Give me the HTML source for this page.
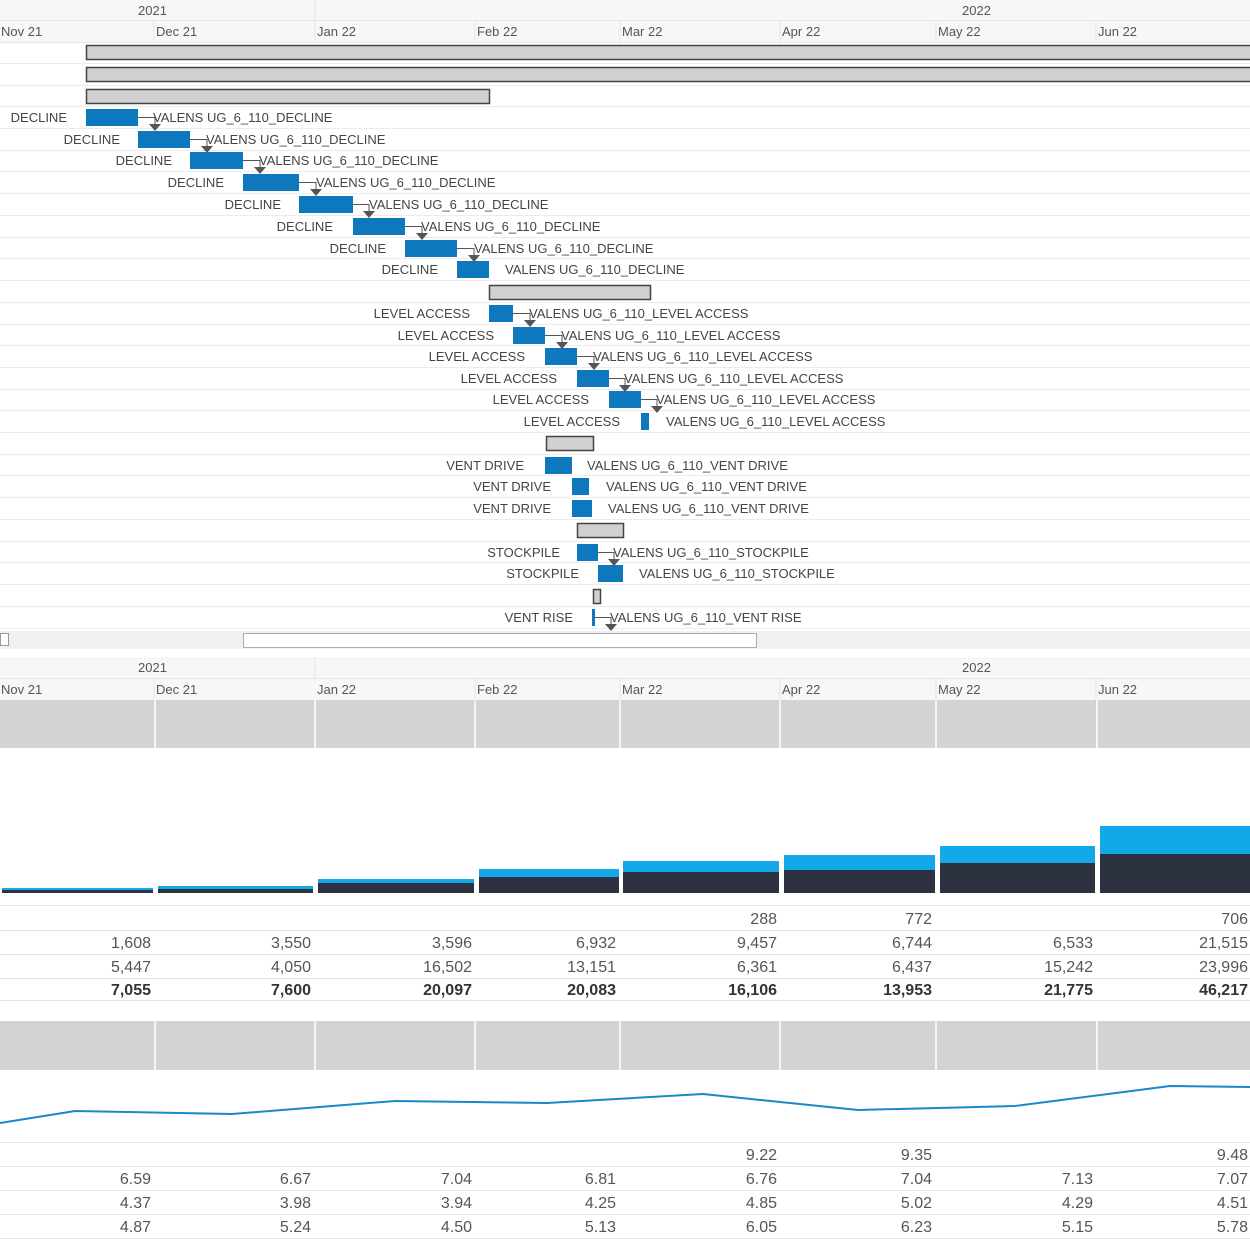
<!DOCTYPE html>
<html><head><meta charset="utf-8"><style>
html,body{margin:0;padding:0;background:#fff;}
svg{display:block;font-family:"Liberation Sans",sans-serif;}
.g{font-size:13px;fill:#444;}
.h{font-size:13px;fill:#555;}
.n{font-size:16px;fill:#555;}
.b{font-size:16px;fill:#333;font-weight:bold;}
</style></head><body>
<svg width="1250" height="1250" viewBox="0 0 1250 1250">
<!-- top header -->
<rect x="0" y="0" width="1250" height="42" fill="#f7f7f7"/>
<line x1="0" y1="20.5" x2="1250" y2="20.5" stroke="#e6e6e6"/>
<line x1="0" y1="42.5" x2="1250" y2="42.5" stroke="#e6e6e6"/>
<line x1="315" y1="0" x2="315" y2="42" stroke="#e6e6e6"/>
<g stroke="#e6e6e6"><line x1="154" y1="20" x2="154" y2="42"/><line x1="475" y1="20" x2="475" y2="42"/><line x1="620" y1="20" x2="620" y2="42"/><line x1="780" y1="20" x2="780" y2="42"/><line x1="936" y1="20" x2="936" y2="42"/><line x1="1096" y1="20" x2="1096" y2="42"/></g>
<text class="h" x="138" y="15">2021</text><text class="h" x="962" y="15">2022</text>
<g class="h"><text x="1" y="36">Nov 21</text><text x="156" y="36">Dec 21</text><text x="317" y="36">Jan 22</text><text x="477" y="36">Feb 22</text><text x="622" y="36">Mar 22</text><text x="782" y="36">Apr 22</text><text x="938" y="36">May 22</text><text x="1098" y="36">Jun 22</text></g>
<!-- row lines -->
<g stroke="#ececec">
<line x1="0" y1="63.5" x2="1250" y2="63.5"/><line x1="0" y1="85.5" x2="1250" y2="85.5"/><line x1="0" y1="106.5" x2="1250" y2="106.5"/><line x1="0" y1="128.5" x2="1250" y2="128.5"/><line x1="0" y1="150.5" x2="1250" y2="150.5"/><line x1="0" y1="171.5" x2="1250" y2="171.5"/><line x1="0" y1="193.5" x2="1250" y2="193.5"/><line x1="0" y1="215.5" x2="1250" y2="215.5"/><line x1="0" y1="237.5" x2="1250" y2="237.5"/><line x1="0" y1="258.5" x2="1250" y2="258.5"/><line x1="0" y1="280.5" x2="1250" y2="280.5"/><line x1="0" y1="302.5" x2="1250" y2="302.5"/><line x1="0" y1="324.5" x2="1250" y2="324.5"/><line x1="0" y1="345.5" x2="1250" y2="345.5"/><line x1="0" y1="367.5" x2="1250" y2="367.5"/><line x1="0" y1="389.5" x2="1250" y2="389.5"/><line x1="0" y1="410.5" x2="1250" y2="410.5"/><line x1="0" y1="432.5" x2="1250" y2="432.5"/><line x1="0" y1="454.5" x2="1250" y2="454.5"/><line x1="0" y1="475.5" x2="1250" y2="475.5"/><line x1="0" y1="497.5" x2="1250" y2="497.5"/><line x1="0" y1="519.5" x2="1250" y2="519.5"/><line x1="0" y1="541.5" x2="1250" y2="541.5"/><line x1="0" y1="562.5" x2="1250" y2="562.5"/><line x1="0" y1="584.5" x2="1250" y2="584.5"/><line x1="0" y1="606.5" x2="1250" y2="606.5"/><line x1="0" y1="628.5" x2="1250" y2="628.5"/>
</g>
<!-- gray summary bars -->
<g fill="#d0d0d0" stroke="#444" stroke-width="1.5">
<rect x="86.5" y="45.5" width="1170" height="14"/>
<rect x="86.5" y="67.5" width="1170" height="14"/>
<rect x="86.5" y="89.5" width="403" height="14"/>
<rect x="489.5" y="285.5" width="161" height="14"/>
<rect x="546.5" y="436.5" width="47" height="14"/>
<rect x="577.5" y="523.5" width="46" height="14"/>
<rect x="593.5" y="589.5" width="7" height="14"/>
</g>
<!-- blue bars -->
<g fill="#0e78be">
<rect x="86" y="109" width="52" height="17"/>
<rect x="138" y="131" width="52" height="17"/>
<rect x="190" y="152" width="53" height="17"/>
<rect x="243" y="174" width="56" height="17"/>
<rect x="299" y="196" width="54" height="17"/>
<rect x="353" y="218" width="52" height="17"/>
<rect x="405" y="240" width="52" height="17"/>
<rect x="457" y="261" width="32" height="17"/>
<rect x="489" y="305" width="24" height="17"/>
<rect x="513" y="327" width="32" height="17"/>
<rect x="545" y="348" width="32" height="17"/>
<rect x="577" y="370" width="32" height="17"/>
<rect x="609" y="391" width="32" height="17"/>
<rect x="641" y="413" width="8" height="17"/>
<rect x="545" y="457" width="27" height="17"/>
<rect x="572" y="478" width="17" height="17"/>
<rect x="572" y="500" width="20" height="17"/>
<rect x="577" y="544" width="21" height="17"/>
<rect x="598" y="565" width="25" height="17"/>
<rect x="592" y="609" width="3" height="17"/>
</g>
<!-- connectors -->
<g stroke="#555" fill="none" stroke-width="1">
<path d="M138 117.5H155V124"/><path d="M190 139.5H207V146"/><path d="M243 160.5H260V167"/><path d="M299 182.5H316V189"/><path d="M353 204.5H369V211"/><path d="M405 226.5H422V233"/><path d="M457 248.5H474V255"/>
<path d="M513 313.5H530V320"/><path d="M545 335.5H562V342"/><path d="M577 356.5H594V363"/><path d="M609 378.5H625V385"/><path d="M641 399.5H657V406"/>
<path d="M598 552.5H614V559"/><path d="M595 617.5H611V624"/>
</g>
<g fill="#555">
<path d="M149 124h12l-6 7z"/><path d="M201 146h12l-6 7z"/><path d="M254 167h12l-6 7z"/><path d="M310 189h12l-6 7z"/><path d="M363 211h12l-6 7z"/><path d="M416 233h12l-6 7z"/><path d="M468 255h12l-6 7z"/>
<path d="M524 320h12l-6 7z"/><path d="M556 342h12l-6 7z"/><path d="M588 363h12l-6 7z"/><path d="M619 385h12l-6 7z"/><path d="M651 406h12l-6 7z"/>
<path d="M608 559h12l-6 7z"/><path d="M605 624h12l-6 7z"/>
</g>
<!-- labels -->
<g class="g" text-anchor="end">
<text x="67" y="122">DECLINE</text><text x="120" y="144">DECLINE</text><text x="172" y="165">DECLINE</text><text x="224" y="187">DECLINE</text><text x="281" y="209">DECLINE</text><text x="333" y="231">DECLINE</text><text x="386" y="253">DECLINE</text><text x="438" y="274">DECLINE</text>
<text x="470" y="318">LEVEL ACCESS</text><text x="494" y="340">LEVEL ACCESS</text><text x="525" y="361">LEVEL ACCESS</text><text x="557" y="383">LEVEL ACCESS</text><text x="589" y="404">LEVEL ACCESS</text><text x="620" y="426">LEVEL ACCESS</text>
<text x="524" y="470">VENT DRIVE</text><text x="551" y="491">VENT DRIVE</text><text x="551" y="513">VENT DRIVE</text>
<text x="560" y="557">STOCKPILE</text><text x="579" y="578">STOCKPILE</text>
<text x="573" y="622">VENT RISE</text>
</g>
<g class="g">
<text x="153" y="122">VALENS UG_6_110_DECLINE</text><text x="206" y="144">VALENS UG_6_110_DECLINE</text><text x="259" y="165">VALENS UG_6_110_DECLINE</text><text x="316" y="187">VALENS UG_6_110_DECLINE</text><text x="369" y="209">VALENS UG_6_110_DECLINE</text><text x="421" y="231">VALENS UG_6_110_DECLINE</text><text x="474" y="253">VALENS UG_6_110_DECLINE</text><text x="505" y="274">VALENS UG_6_110_DECLINE</text>
<text x="529" y="318">VALENS UG_6_110_LEVEL ACCESS</text><text x="561" y="340">VALENS UG_6_110_LEVEL ACCESS</text><text x="593" y="361">VALENS UG_6_110_LEVEL ACCESS</text><text x="624" y="383">VALENS UG_6_110_LEVEL ACCESS</text><text x="656" y="404">VALENS UG_6_110_LEVEL ACCESS</text><text x="666" y="426">VALENS UG_6_110_LEVEL ACCESS</text>
<text x="587" y="470">VALENS UG_6_110_VENT DRIVE</text><text x="606" y="491">VALENS UG_6_110_VENT DRIVE</text><text x="608" y="513">VALENS UG_6_110_VENT DRIVE</text>
<text x="613" y="557">VALENS UG_6_110_STOCKPILE</text><text x="639" y="578">VALENS UG_6_110_STOCKPILE</text>
<text x="610" y="622">VALENS UG_6_110_VENT RISE</text>
</g>
<!-- scrollbar -->
<rect x="0" y="631" width="1250" height="18" fill="#f0f0f0"/>
<rect x="0.5" y="633.5" width="8" height="12" fill="#fff" stroke="#999"/>
<rect x="243.5" y="633.5" width="513" height="14" fill="#fff" stroke="#aaa"/>
<!-- second header -->
<rect x="0" y="657" width="1250" height="43" fill="#f7f7f7"/>
<line x1="0" y1="678.5" x2="1250" y2="678.5" stroke="#e6e6e6"/>
<line x1="315" y1="657" x2="315" y2="678" stroke="#e6e6e6"/>
<g stroke="#e6e6e6"><line x1="154" y1="678" x2="154" y2="700"/><line x1="475" y1="678" x2="475" y2="700"/><line x1="620" y1="678" x2="620" y2="700"/><line x1="780" y1="678" x2="780" y2="700"/><line x1="936" y1="678" x2="936" y2="700"/><line x1="1096" y1="678" x2="1096" y2="700"/></g>
<text class="h" x="138" y="672">2021</text><text class="h" x="962" y="672">2022</text>
<g class="h"><text x="1" y="694">Nov 21</text><text x="156" y="694">Dec 21</text><text x="317" y="694">Jan 22</text><text x="477" y="694">Feb 22</text><text x="622" y="694">Mar 22</text><text x="782" y="694">Apr 22</text><text x="938" y="694">May 22</text><text x="1098" y="694">Jun 22</text></g>
<!-- gray bands -->
<rect x="0" y="700" width="1250" height="48" fill="#d3d3d3"/>
<rect x="0" y="1021" width="1250" height="49" fill="#d3d3d3"/>
<g stroke="#f4f4f4" stroke-width="2">
<line x1="155" y1="700" x2="155" y2="748"/><line x1="315" y1="700" x2="315" y2="748"/><line x1="475" y1="700" x2="475" y2="748"/><line x1="620" y1="700" x2="620" y2="748"/><line x1="780" y1="700" x2="780" y2="748"/><line x1="936" y1="700" x2="936" y2="748"/><line x1="1097" y1="700" x2="1097" y2="748"/>
<line x1="155" y1="1021" x2="155" y2="1070"/><line x1="315" y1="1021" x2="315" y2="1070"/><line x1="475" y1="1021" x2="475" y2="1070"/><line x1="620" y1="1021" x2="620" y2="1070"/><line x1="780" y1="1021" x2="780" y2="1070"/><line x1="936" y1="1021" x2="936" y2="1070"/><line x1="1097" y1="1021" x2="1097" y2="1070"/>
</g>
<!-- stacked bars -->
<g fill="#13a9e8">
<rect x="2" y="888" width="151" height="5"/><rect x="158" y="886" width="155" height="7"/><rect x="318" y="879" width="156" height="14"/><rect x="479" y="869" width="140" height="24"/><rect x="623" y="861" width="156" height="32"/><rect x="784" y="855" width="151" height="38"/><rect x="940" y="846" width="155" height="47"/><rect x="1100" y="826" width="150" height="67"/>
</g>
<g fill="#2d3240">
<rect x="2" y="890" width="151" height="3"/><rect x="158" y="889" width="155" height="4"/><rect x="318" y="883" width="156" height="10"/><rect x="479" y="877" width="140" height="16"/><rect x="623" y="872" width="156" height="21"/><rect x="784" y="870" width="151" height="23"/><rect x="940" y="863" width="155" height="30"/><rect x="1100" y="854" width="150" height="39"/>
</g>
<!-- table lines -->
<g stroke="#e2e2e2">
<line x1="0" y1="905.5" x2="1250" y2="905.5"/><line x1="0" y1="930.5" x2="1250" y2="930.5"/><line x1="0" y1="954.5" x2="1250" y2="954.5"/><line x1="0" y1="978.5" x2="1250" y2="978.5"/><line x1="0" y1="1000.5" x2="1250" y2="1000.5"/>
<line x1="0" y1="1142.5" x2="1250" y2="1142.5"/><line x1="0" y1="1166.5" x2="1250" y2="1166.5"/><line x1="0" y1="1190.5" x2="1250" y2="1190.5"/><line x1="0" y1="1214.5" x2="1250" y2="1214.5"/><line x1="0" y1="1238.5" x2="1250" y2="1238.5"/>
</g>
<g text-anchor="end" class="n">
<text x="777" y="924">288</text><text x="932" y="924">772</text><text x="1248" y="924">706</text>
<text x="151" y="948">1,608</text><text x="311" y="948">3,550</text><text x="472" y="948">3,596</text><text x="616" y="948">6,932</text><text x="777" y="948">9,457</text><text x="932" y="948">6,744</text><text x="1093" y="948">6,533</text><text x="1248" y="948">21,515</text>
<text x="151" y="972">5,447</text><text x="311" y="972">4,050</text><text x="472" y="972">16,502</text><text x="616" y="972">13,151</text><text x="777" y="972">6,361</text><text x="932" y="972">6,437</text><text x="1093" y="972">15,242</text><text x="1248" y="972">23,996</text>
</g>
<g text-anchor="end" class="b">
<text x="151" y="995">7,055</text><text x="311" y="995">7,600</text><text x="472" y="995">20,097</text><text x="616" y="995">20,083</text><text x="777" y="995">16,106</text><text x="932" y="995">13,953</text><text x="1093" y="995">21,775</text><text x="1248" y="995">46,217</text>
</g>
<!-- line chart -->
<polyline fill="none" stroke="#1a88c9" stroke-width="2" points="0,1123 75,1111 232,1114 395,1101 547,1103 703,1094 858,1110 1015,1106 1170,1086 1250,1087"/>
<g text-anchor="end" class="n">
<text x="777" y="1160">9.22</text><text x="932" y="1160">9.35</text><text x="1248" y="1160">9.48</text>
<text x="151" y="1184">6.59</text><text x="311" y="1184">6.67</text><text x="472" y="1184">7.04</text><text x="616" y="1184">6.81</text><text x="777" y="1184">6.76</text><text x="932" y="1184">7.04</text><text x="1093" y="1184">7.13</text><text x="1248" y="1184">7.07</text>
<text x="151" y="1208">4.37</text><text x="311" y="1208">3.98</text><text x="472" y="1208">3.94</text><text x="616" y="1208">4.25</text><text x="777" y="1208">4.85</text><text x="932" y="1208">5.02</text><text x="1093" y="1208">4.29</text><text x="1248" y="1208">4.51</text>
<text x="151" y="1232">4.87</text><text x="311" y="1232">5.24</text><text x="472" y="1232">4.50</text><text x="616" y="1232">5.13</text><text x="777" y="1232">6.05</text><text x="932" y="1232">6.23</text><text x="1093" y="1232">5.15</text><text x="1248" y="1232">5.78</text>
</g>
</svg>
</body></html>
